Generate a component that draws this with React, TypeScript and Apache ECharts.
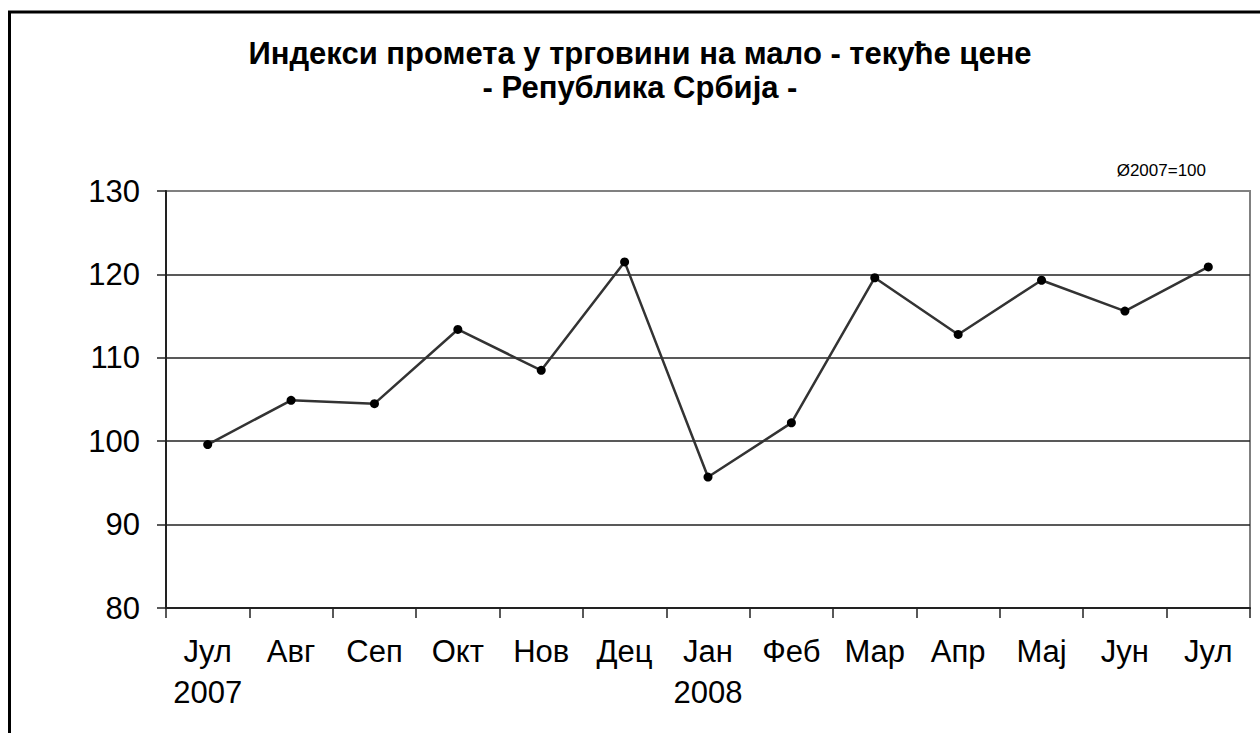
import React, { useEffect, useRef } from "react";
import * as echarts from "echarts";

const titleLines = ["Индекси промета у трговини на мало - текуће цене", "- Република Србија -"];
const baseNote = "Ø2007=100";
const categories = ["Јул\n2007", "Авг", "Сеп", "Окт", "Нов", "Дец", "Јан\n2008", "Феб", "Мар", "Апр", "Мај", "Јун", "Јул"];
const values = [99.6, 104.9, 104.5, 113.4, 108.5, 121.5, 95.7, 102.2, 119.6, 112.8, 119.3, 115.6, 120.9];
const yMin = 80;
const yMax = 130;
const yStep = 10;

const FONT = "'Liberation Sans', Arial, sans-serif";

export default function App() {
  const ref = useRef<HTMLDivElement>(null);
  useEffect(() => {
    if (!ref.current) return;
    const chart = echarts.init(ref.current, undefined, { renderer: "svg" });
    chart.setOption({
      animation: false,
      backgroundColor: "#ffffff",
      textStyle: { fontFamily: FONT },
      graphic: [
        {
          type: "rect",
          z: 0,
          shape: { x: 9.5, y: 12, width: 1400, height: 900 },
          style: { fill: "none", stroke: "#000", lineWidth: 3 },
        },
        {
          type: "text",
          x: 640,
          y: 53,
          style: {
            text: titleLines[0],
            fontFamily: FONT,
            fontSize: 31,
            fontWeight: "bold",
            fill: "#000",
            align: "center",
            verticalAlign: "middle",
          },
        },
        {
          type: "text",
          x: 640,
          y: 87,
          style: {
            text: titleLines[1],
            fontFamily: FONT,
            fontSize: 31,
            fontWeight: "bold",
            fill: "#000",
            align: "center",
            verticalAlign: "middle",
          },
        },
        {
          type: "text",
          x: 1206,
          y: 170,
          style: {
            text: baseNote,
            fontFamily: FONT,
            fontSize: 17,
            fill: "#000",
            align: "right",
            verticalAlign: "middle",
          },
        },
      ],
      grid: {
        left: 166,
        right: 10,
        top: 191,
        bottom: 125,
        show: true,
        borderColor: "#808080",
        borderWidth: 2,
        backgroundColor: "transparent",
      },
      xAxis: {
        type: "category",
        data: categories,
        boundaryGap: true,
        axisLine: { show: true, lineStyle: { color: "#222", width: 2 } },
        axisTick: { show: true, interval: 0, alignWithLabel: false, length: 10, lineStyle: { color: "#222", width: 1.5 } },
        axisLabel: {
          interval: 0,
          margin: 23,
          color: "#000",
          fontFamily: FONT,
          fontSize: 31,
          lineHeight: 41,
        },
        splitLine: { show: false },
      },
      yAxis: {
        type: "value",
        min: yMin,
        max: yMax,
        interval: yStep,
        axisLine: { show: true, lineStyle: { color: "#222", width: 2 } },
        axisTick: { show: true, length: 9, lineStyle: { color: "#222", width: 1.5 } },
        axisLabel: {
          margin: 26,
          color: "#000",
          fontFamily: FONT,
          fontSize: 31,
        },
        splitLine: {
          show: true,
          lineStyle: {
            color: ["#222", "#222", "#222", "#222", "#222", "rgba(0,0,0,0)"],
            width: 1.5,
          },
        },
      },
      series: [
        {
          type: "line",
          data: values,
          symbol: "circle",
          symbolSize: 9,
          lineStyle: { color: "#333", width: 2.5 },
          itemStyle: { color: "#000" },
          z: 5,
        },
      ],
    });
    return () => chart.dispose();
  }, []);
  return (
    <div
      ref={ref}
      style={{ position: "fixed", left: 0, top: 0, width: 1260, height: 733, background: "#fff" }}
    />
  );
}
